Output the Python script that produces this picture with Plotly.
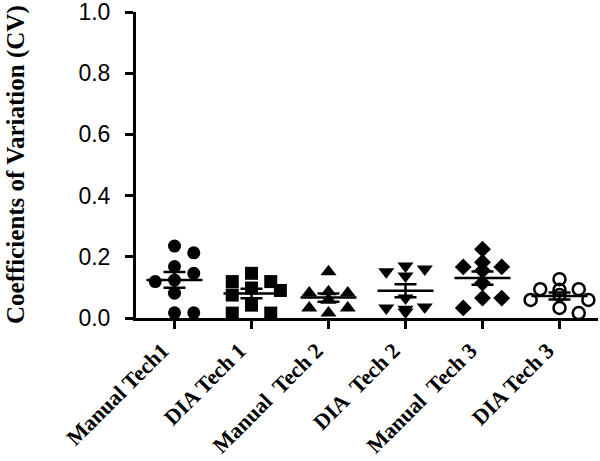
import numpy as np
import plotly.graph_objects as go

categories = ["Manual Tech1", "DIA Tech 1", "Manual\u00a0 Tech 2", "DIA\u00a0 Tech 2", "Manual\u00a0 Tech 3", "DIA Tech 3"]

manual_tech1 = [0.235, 0.213, 0.168, 0.146, 0.124, 0.119, 0.081, 0.017, 0.017]
dia_tech1 = [0.146, 0.119, 0.119, 0.098, 0.090, 0.075, 0.042, 0.016, 0.016]
manual_tech2 = [0.151, 0.082, 0.082, 0.086, 0.059, 0.059, 0.033, 0.033, 0.016]
dia_tech2 = [0.170, 0.160, 0.151, 0.137, 0.065, 0.036, 0.033, 0.029, 0.020]
manual_tech3 = [0.225, 0.182, 0.167, 0.167, 0.155, 0.114, 0.065, 0.065, 0.033]
dia_tech3 = [0.127, 0.094, 0.094, 0.092, 0.075, 0.059, 0.059, 0.033, 0.016]

series = [manual_tech1, dia_tech1, manual_tech2, dia_tech2, manual_tech3, dia_tech3]
symbols = ["circle", "square", "triangle-up", "triangle-down", "diamond", "circle-open"]
sizes = [13, 13, 14, 14, 13, 12]

y_ticks = [0.0, 0.2, 0.4, 0.6, 0.8, 1.0]

XUNIT, YUNIT, DIAM = 77.0, 306.0, 12.0


def dodge(vals):
    order = sorted(range(len(vals)), key=lambda i: -vals[i])
    placed = []
    res = [0.0] * len(vals)
    for i in order:
        chosen = 0.0
        for o in [0, 0.25, -0.25, 0.125, -0.125, 0.375, -0.375]:
            if all(((o - po) * XUNIT) ** 2 + ((vals[i] - pv) * YUNIT) ** 2 >= DIAM ** 2
                   for po, pv in placed):
                chosen = o
                break
        placed.append((chosen, vals[i]))
        res[i] = chosen
    return res


fig = go.Figure()
for k, vals in enumerate(series):
    offs = dodge(vals)
    xs = [k + o for o in offs]
    open_sym = symbols[k].endswith("open")
    fig.add_trace(go.Scatter(
        x=xs, y=vals, mode="markers",
        marker=dict(symbol=symbols[k], size=sizes[k], color="black",
                    line=dict(color="black", width=2.5 if open_sym else 0)),
        showlegend=False, hoverinfo="y", cliponaxis=False))

for k, vals in enumerate(series):
    arr = np.array(vals)
    mean = arr.mean()
    sem = arr.std(ddof=1) / np.sqrt(len(arr))
    fig.add_trace(go.Scatter(
        x=[k], y=[mean], mode="markers",
        marker=dict(symbol="line-ew", size=40, color="black",
                    line=dict(color="black", width=2.5)),
        error_y=dict(type="data", array=[sem], visible=True, color="black",
                     thickness=2.5, width=11),
        showlegend=False, hoverinfo="y"))

fig.update_layout(
    width=600, height=461,
    margin=dict(l=136, r=2, t=12, b=143),
    plot_bgcolor="white", paper_bgcolor="white",
    xaxis=dict(range=[-0.5, 5.5], tickmode="array", tickvals=list(range(6)),
               ticktext=categories, tickangle=-45, showgrid=False, zeroline=False,
               showline=True, linecolor="black", linewidth=3, automargin=False,
               ticks="outside", ticklen=8, tickwidth=3, tickcolor="black",
               ticklabeloverflow="allow", ticklabelshift=-12,
               tickfont=dict(family="Liberation Serif, Times New Roman, serif",
                             size=22, color="black", weight="bold")),
    yaxis=dict(range=[0, 1.0], tickmode="array", tickvals=y_ticks,
               ticktext=[f"{v:.1f}" for v in y_ticks], showgrid=False, zeroline=False,
               showline=True, linecolor="black", linewidth=3, automargin=False,
               ticks="outside", ticklen=8, tickwidth=3, tickcolor="black",
               ticklabelstandoff=10, ticklabeloverflow="allow",
               tickfont=dict(family="Liberation Sans, Arial, sans-serif", size=23, color="black")),
    annotations=[dict(text="<b>Coefficients of Variation (CV)</b>", xref="paper", yref="paper",
                      x=0, y=0.5, xanchor="center", yanchor="middle", xshift=-120,
                      textangle=-90, showarrow=False,
                      font=dict(family="Liberation Serif, Times New Roman, serif",
                                size=25, color="black"))],
)

fig.write_html("out.html", config={"displayModeBar": False},
               post_script="document.body.style.margin='0';")
